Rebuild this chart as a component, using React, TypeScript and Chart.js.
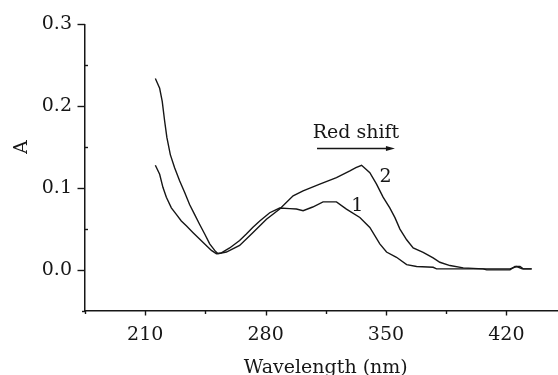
import React, { useEffect, useRef } from 'react';
import { Chart, registerables } from 'chart.js';

Chart.register(...registerables);

// Curve 1
const wavelength1 = [
  215.9, 218.4, 220.3, 222.3, 225.2, 228.1, 231.0, 233.9, 237.7, 241.6, 245.5, 248.5, 251.4, 254.3,
  259.1, 264.9, 268.8, 272.5, 276.6, 282.4, 288.2, 294.0, 297.9, 301.8, 307.4, 313.4, 321.2, 327.0,
  334.8, 340.6, 346.4, 350.3, 356.1, 362.0, 367.8, 377.4, 379.4, 406.5, 408.5, 422.1, 425.0, 427.9,
  429.8, 434.7,
];
const absorbance1 = [
  0.128, 0.117, 0.101, 0.089, 0.076, 0.068, 0.060, 0.054, 0.046, 0.038, 0.030, 0.024, 0.020, 0.021,
  0.027, 0.036, 0.044, 0.052, 0.060, 0.070, 0.0757, 0.075, 0.0745, 0.0724, 0.077, 0.0833, 0.0833, 0.0745,
  0.0642, 0.052, 0.032, 0.022, 0.0156, 0.0067, 0.0043, 0.0034, 0.0015, 0.0015, 0.0002, 0.0002, 0.0043, 0.0043,
  0.0015, 0.0015,
];

// Curve 2
const wavelength2 = [
  215.9, 218.4, 219.9, 221.3, 222.6, 224.6, 227.1, 230.0, 232.9, 235.8, 238.7, 241.6, 244.6, 247.5,
  250.4, 252.3, 257.2, 264.9, 272.7, 280.5, 288.2, 296.0, 301.8, 311.5, 321.2, 329.0, 332.5, 335.8,
  340.6, 344.5, 348.3, 352.2, 355.2, 358.1, 362.0, 365.8, 371.6, 377.4, 381.3, 387.2, 394.9, 406.5,
  422.1, 426.0, 429.2, 434.7,
];
const absorbance2 = [
  0.234, 0.222, 0.206, 0.182, 0.162, 0.141, 0.125, 0.109, 0.095, 0.080, 0.068, 0.056, 0.044, 0.032,
  0.024, 0.020, 0.022, 0.030, 0.046, 0.062, 0.0745, 0.0906, 0.0967, 0.1049, 0.1129, 0.121, 0.125, 0.128,
  0.119, 0.105, 0.089, 0.076, 0.064, 0.050, 0.037, 0.027, 0.0217, 0.0148, 0.0095, 0.0055, 0.0027, 0.0015,
  0.0015, 0.0043, 0.0015, 0.0015,
];

const xMajorTicks = [210, 280, 350, 420];
const xMinorTicks = [175, 245, 315, 385];
const yMajorTicks = [0, 0.1, 0.2, 0.3];
const yMinorTicks = [0.05, 0.15, 0.25];

const xTitle = 'Wavelength (nm)';
const yTitle = 'A';
const arrowText = 'Red shift';
const curveLabelTexts = ['1', '2'];
const curveLabelX = [333.3, 349.8];
const curveLabelY = [0.0724, 0.108];
const arrowTextX = 332.5;
const arrowTextY = 0.1616;
const arrowStartX = 309.9;
const arrowEndX = 355.2;
const arrowYValue = 0.1494;
const xTitleValue = 315;
const yTitleValue = 0.15;

const FONT = '"DejaVu Serif", serif';
const INK = '#161616';

export default function App() {
  const ref = useRef<HTMLCanvasElement | null>(null);

  useEffect(() => {
    document.body.style.margin = '0';
    const canvas = ref.current;
    if (!canvas) return;

    const decorations = {
      id: 'decorations',
      afterDraw(chart: any) {
        const ctx = chart.ctx;
        const xs = chart.scales.x;
        const ys = chart.scales.y;
        const ca = chart.chartArea;
        ctx.save();
        ctx.strokeStyle = INK;
        ctx.fillStyle = INK;
        ctx.lineWidth = 1.4;
        for (const v of yMajorTicks) {
          const y = Math.round(ys.getPixelForValue(v)) + 0.5;
          ctx.beginPath();
          ctx.moveTo(ca.left - 7.5, y);
          ctx.lineTo(ca.left, y);
          ctx.stroke();
        }
        for (const v of yMinorTicks) {
          const y = Math.round(ys.getPixelForValue(v)) + 0.5;
          ctx.beginPath();
          ctx.moveTo(ca.left, y);
          ctx.lineTo(ca.left + 3, y);
          ctx.stroke();
        }
        {
          const y = Math.round(ys.getPixelForValue(-0.05)) + 0.5;
          ctx.beginPath();
          ctx.moveTo(ca.left - 3, y);
          ctx.lineTo(ca.left, y);
          ctx.stroke();
        }
        for (const v of xMajorTicks) {
          const x = Math.round(xs.getPixelForValue(v)) + 0.5;
          ctx.beginPath();
          ctx.moveTo(x, ca.bottom);
          ctx.lineTo(x, ca.bottom + 4.5);
          ctx.stroke();
        }
        for (const v of xMinorTicks) {
          const x = Math.round(xs.getPixelForValue(v)) + 0.5;
          ctx.beginPath();
          ctx.moveTo(x, ca.bottom);
          ctx.lineTo(x, ca.bottom + 3);
          ctx.stroke();
        }
        ctx.font = `19px ${FONT}`;
        ctx.textAlign = 'center';
        ctx.textBaseline = 'alphabetic';
        ctx.fillText(xTitle, xs.getPixelForValue(xTitleValue), 372.5);
        ctx.save();
        ctx.translate(27, ys.getPixelForValue(yTitleValue));
        ctx.rotate(-Math.PI / 2);
        ctx.fillText(yTitle, 0, 0);
        ctx.restore();
        ctx.fillText(arrowText, xs.getPixelForValue(arrowTextX), ys.getPixelForValue(arrowTextY));
        for (let i = 0; i < curveLabelTexts.length; i++) {
          ctx.fillText(curveLabelTexts[i], xs.getPixelForValue(curveLabelX[i]), ys.getPixelForValue(curveLabelY[i]));
        }
        const ax0 = xs.getPixelForValue(arrowStartX);
        const ax1 = xs.getPixelForValue(arrowEndX);
        const ay = Math.round(ys.getPixelForValue(arrowYValue)) + 0.5;
        ctx.lineWidth = 1.3;
        ctx.beginPath();
        ctx.moveTo(ax0, ay);
        ctx.lineTo(ax1 - 6, ay);
        ctx.stroke();
        ctx.beginPath();
        ctx.moveTo(ax1, ay);
        ctx.lineTo(ax1 - 9, ay - 2.6);
        ctx.lineTo(ax1 - 9, ay + 2.6);
        ctx.closePath();
        ctx.fill();
        ctx.restore();
      },
    };

    const chart = new Chart(canvas, {
      type: 'scatter',
      data: {
        datasets: [
          {
            label: '1',
            data: wavelength1.map((x, i) => ({ x, y: absorbance1[i] })),
            showLine: true,
            borderColor: INK,
            borderWidth: 1.4,
            pointRadius: 0,
            tension: 0,
            fill: false,
          },
          {
            label: '2',
            data: wavelength2.map((x, i) => ({ x, y: absorbance2[i] })),
            showLine: true,
            borderColor: INK,
            borderWidth: 1.4,
            pointRadius: 0,
            tension: 0,
            fill: false,
          },
        ],
      },
      options: {
        responsive: false,
        animation: false,
        devicePixelRatio: 1,
        layout: { padding: { top: 23, right: 0, left: 0, bottom: 0 } },
        plugins: { legend: { display: false }, tooltip: { enabled: false } },
        scales: {
          x: {
            type: 'linear',
            min: 175,
            max: 450,
            position: 'bottom',
            border: { display: true, color: INK, width: 1.5 },
            grid: { display: false, drawTicks: false },
            afterFit: (s: any) => {
              s.height = 64;
              s.paddingRight = 0;
              s.paddingLeft = 0;
            },
            ticks: {
              stepSize: 35,
              autoSkip: false,
              maxRotation: 0,
              padding: 13,
              color: INK,
              font: { family: FONT, size: 19 },
              callback: (v: any) => (xMajorTicks.includes(Number(v)) ? String(v) : ''),
            },
          },
          y: {
            type: 'linear',
            min: -0.05,
            max: 0.3,
            border: { display: true, color: INK, width: 1.5 },
            grid: { display: false, drawTicks: false },
            afterFit: (s: any) => { s.width = 85; },
            ticks: {
              stepSize: 0.05,
              autoSkip: false,
              padding: 13,
              color: INK,
              font: { family: FONT, size: 19 },
              callback: (v: any) => {
                const n = Number(v);
                const hit = yMajorTicks.some((t) => Math.abs(t - n) < 1e-6);
                if (!hit) return '';
                return Math.abs(n) < 1e-6 ? '0.0' : n.toFixed(1);
              },
            },
          },
        },
      },
      plugins: [decorations],
    });

    return () => chart.destroy();
  }, []);

  return (
    <div style={{ width: 558, height: 375, background: '#fff' }}>
      <canvas ref={ref} width={558} height={375} />
    </div>
  );
}
